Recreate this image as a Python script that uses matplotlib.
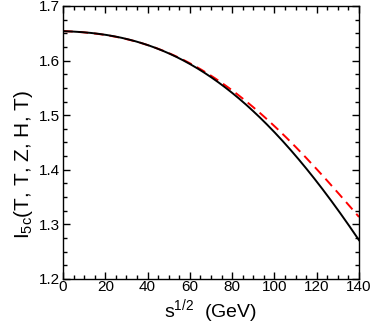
import numpy as np
import matplotlib
matplotlib.use("Agg")
import matplotlib.pyplot as plt
from matplotlib.ticker import MultipleLocator

plt.rcParams['font.family'] = ['Liberation Sans', 'DejaVu Sans']

# curve samples
sqrt_s = [0, 10, 20, 30, 40, 50, 60, 70, 80, 90, 100, 110, 120, 130, 140]
i5c_black = [1.654, 1.652, 1.647, 1.639, 1.628, 1.614, 1.595, 1.570, 1.541,
             1.507, 1.467, 1.425, 1.380, 1.328, 1.270]
i5c_red = [1.654, 1.652, 1.647, 1.639, 1.628, 1.614, 1.596, 1.572, 1.546,
           1.515, 1.479, 1.441, 1.402, 1.359, 1.313]

fig = plt.figure(figsize=(3.74, 3.25), dpi=100)
ax = fig.add_axes([63/374, 1 - 279/325, 296/374, 273/325])

# smooth curves from a polynomial fit through the sampled points
xs = np.linspace(0, 140, 300)
cb = np.polyfit(sqrt_s, i5c_black, 4)
cr = np.polyfit(sqrt_s, i5c_red, 4)
ax.plot(xs, np.polyval(cr, xs), color='#ff0000', lw=1.4, dashes=(5, 3))
ax.plot(xs, np.polyval(cb, xs), color='black', lw=1.4)

ax.set_xlim(0, 140)
ax.set_ylim(1.2, 1.7)
ax.xaxis.set_major_locator(MultipleLocator(20))
ax.xaxis.set_minor_locator(MultipleLocator(5))
ax.yaxis.set_major_locator(MultipleLocator(0.1))
ax.yaxis.set_minor_locator(MultipleLocator(0.025))
ax.tick_params(which='both', direction='in', top=True, right=True, labelsize=11)
ax.tick_params(which='major', length=5, width=1)
ax.tick_params(which='minor', length=3, width=1)
ax.tick_params(axis='x', pad=1)
ax.tick_params(axis='y', pad=2)
for sp in ax.spines.values():
    sp.set_linewidth(1)

ax.set_xlabel(r'$\mathregular{s^{1/2}}$  (GeV)', fontsize=14, labelpad=2)
ax.set_ylabel(r'$\mathregular{I_{5c}}$(T, T, Z, H, T)', fontsize=15)
ax.yaxis.set_label_coords(-0.095, 0.42)

fig.savefig('out.png', dpi=100)
